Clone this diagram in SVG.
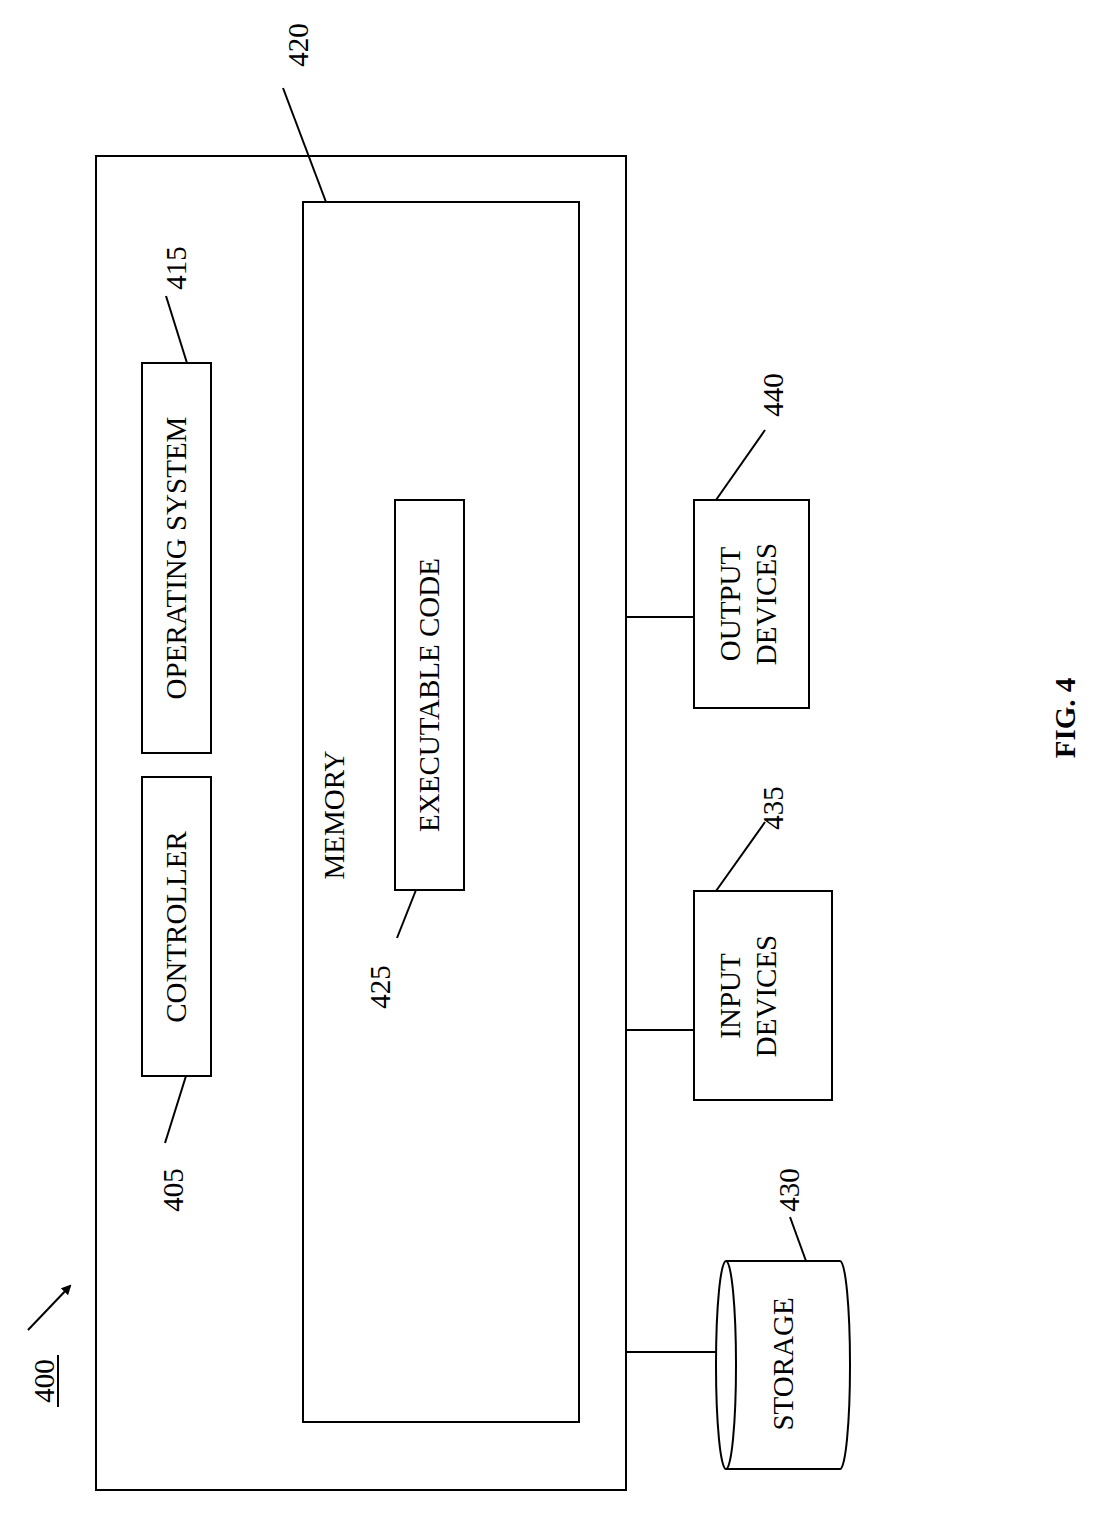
<svg xmlns="http://www.w3.org/2000/svg" width="1097" height="1514" viewBox="0 0 1097 1514">
<style>
.b{fill:none;stroke:#000;stroke-width:2}
.l{fill:none;stroke:#000;stroke-width:2}
text{font-family:"Liberation Serif",serif;font-size:29px;fill:#000;text-anchor:middle}
</style>
<defs><marker id="ah" markerWidth="10" markerHeight="10" refX="8" refY="5" orient="auto" markerUnits="userSpaceOnUse" viewBox="0 0 10 10"><path d="M0,0 L10,5 L0,10 z"/></marker></defs>
<rect width="1097" height="1514" fill="#fff"/>
<g id="n400"><rect class="b" x="96" y="156" width="530" height="1334"/>
<text transform="translate(54,1381) rotate(-90)">400</text><line class="l" x1="58" y1="1355" x2="58" y2="1407"/></g>
<g id="n420"><rect class="b" x="303" y="202" width="276" height="1220"/>
<text transform="translate(344,815) rotate(-90)">MEMORY</text>
<text transform="translate(308,45) rotate(-90)">420</text></g>
<g id="n415"><rect class="b" x="142" y="363" width="69" height="390"/>
<text transform="translate(186,558) rotate(-90)">OPERATING SYSTEM</text>
<text transform="translate(186,268) rotate(-90)">415</text></g>
<g id="n405"><rect class="b" x="142" y="777" width="69" height="299"/>
<text transform="translate(186,927) rotate(-90)">CONTROLLER</text>
<text transform="translate(183,1190) rotate(-90)">405</text></g>
<g id="n425"><rect class="b" x="395" y="500" width="69" height="390"/>
<text transform="translate(439,695) rotate(-90)">EXECUTABLE CODE</text>
<text transform="translate(390,987) rotate(-90)">425</text></g>
<g id="n440"><rect class="b" x="694" y="500" width="115" height="208"/>
<text transform="translate(740,604) rotate(-90)">OUTPUT</text>
<text transform="translate(776,604) rotate(-90)">DEVICES</text>
<text transform="translate(783,395) rotate(-90)">440</text></g>
<g id="n435"><rect class="b" x="694" y="891" width="138" height="209"/>
<text transform="translate(740,996) rotate(-90)">INPUT</text>
<text transform="translate(776,996) rotate(-90)">DEVICES</text>
<text transform="translate(783,808) rotate(-90)">435</text></g>
<g id="n430"><path class="b" d="M726,1261 L840,1261 A10,104 0 0 1 840,1469 L726,1469 A10,104 0 0 1 726,1261 A10,104 0 0 1 726,1469"/>
<text transform="translate(793,1364) rotate(-90)">STORAGE</text>
<text transform="translate(799,1190) rotate(-90)">430</text></g>
<g id="connectors">
<line class="l" x1="626" y1="617" x2="694" y2="617"/>
<line class="l" x1="626" y1="1030" x2="694" y2="1030"/>
<line class="l" x1="626" y1="1352" x2="716" y2="1352"/>
<line class="l" x1="283" y1="88" x2="326" y2="202"/>
<line class="l" x1="166" y1="296" x2="187" y2="363"/>
<line class="l" x1="765" y1="430" x2="716" y2="500"/>
<line class="l" x1="765" y1="822" x2="716" y2="891"/>
<line class="l" x1="397" y1="938" x2="416" y2="890"/>
<line class="l" x1="165" y1="1143" x2="186" y2="1076"/>
<line class="l" x1="790" y1="1217" x2="806" y2="1261"/>
<line class="l" x1="28" y1="1330" x2="70" y2="1286" marker-end="url(#ah)"/>
</g>
<text transform="translate(1075,718) rotate(-90)" style="font-weight:bold">FIG. 4</text>
</svg>
